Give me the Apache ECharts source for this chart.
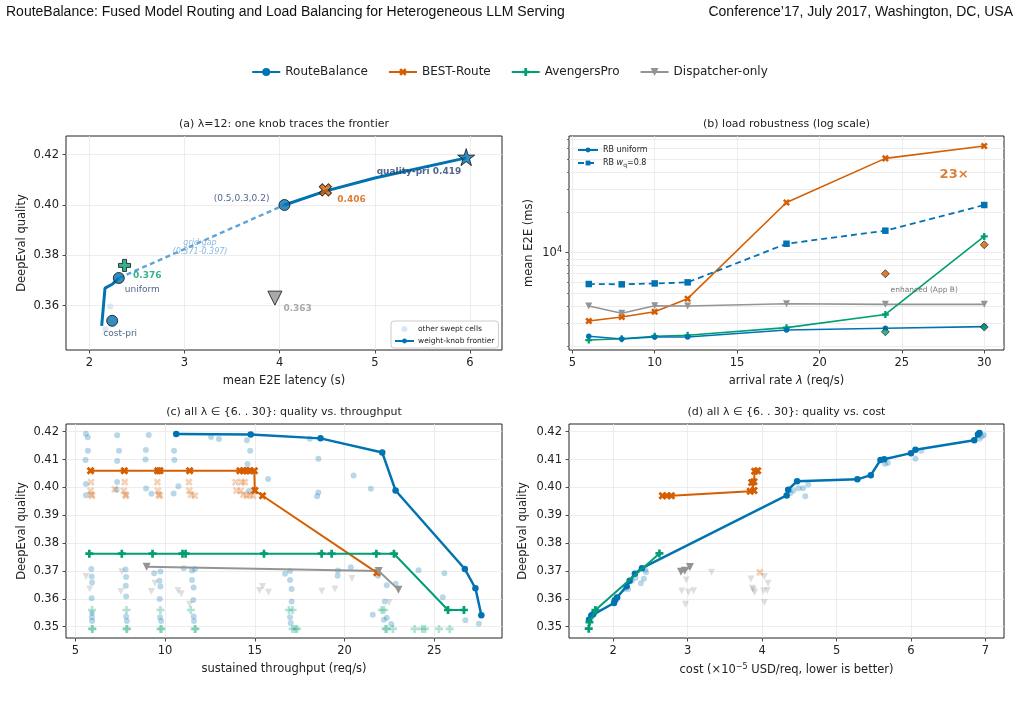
<!DOCTYPE html>
<html>
<head>
<meta charset="utf-8">
<script src="https://cdn.jsdelivr.net/npm/echarts@6/dist/echarts.min.js"></script>
<style>
  html, body { margin: 0; padding: 0; background: #fff; }
  #chart { width: 1019px; height: 715px; }
</style>
</head>
<body>
<div id="chart"></div>
<script>
// ---- (a) lambda = 12 ----
const aSwept = [[2.22, 0.3597], [2.17, 0.3506]];
const aFrontierLow = [[2.13, 0.352], [2.165, 0.367], [2.24, 0.3685], [2.31, 0.371]];
const aFrontierHigh = [[4.05, 0.400], [4.48, 0.4055], [5.0, 0.4107], [5.96, 0.4187]];
const aGap = [[2.31, 0.371], [4.05, 0.400]];
const aRbPoints = [[2.24, 0.354], [2.31, 0.371], [4.05, 0.400]];
const aRbNames = ['cost-pri', 'uniform', '(0.5,0.3,0.2)'];
const aStar = [5.96, 0.419];
const aBest = [4.48, 0.406];
const aAvengers = [2.37, 0.376];
const aDispatcher = [3.95, 0.363];
const aGapNote = [3.163, 0.3832];

// ---- (b) load robustness ----
const rates = [6, 8, 10, 12, 18, 24, 30];
const rbUniform = [2380, 2270, 2350, 2350, 2650, 2730, 2810];
const rbWq08 = [5840, 5810, 5900, 6010, 11670, 14600, 22700];
const bestRoute = [3090, 3310, 3630, 4540, 23700, 50600, 62500];
const avengers = [2230, 2280, 2380, 2420, 2760, 3460, 13240];
const dispatcher = [4000, 3530, 4020, 4000, 4160, 4120, 4120];
const enhRates = [24, 30];
const enhBest = [6970, 11470];
const enhAvengers = [2570, 2790];
const bMajorTicks = [1e4];
const bMinorTicks = [2000, 3000, 4000, 5000, 6000, 7000, 8000, 9000, 20000, 30000, 40000, 50000, 60000, 70000];

// ---- (c) quality vs throughput ----
const cRb = [[10.62, 0.4192], [14.77, 0.419], [18.66, 0.4176], [22.1, 0.4125], [22.84, 0.3989], [26.7, 0.3707], [27.29, 0.3638], [27.62, 0.3541]];
const cBest = [[5.85, 0.406], [7.73, 0.406], [9.59, 0.406], [9.71, 0.406], [11.37, 0.406], [14.17, 0.406], [14.36, 0.406], [14.54, 0.406], [14.69, 0.406], [14.97, 0.406], [15.0, 0.3989], [15.43, 0.397], [21.8, 0.3694]];
const cAvengers = [[5.78, 0.3762], [7.59, 0.3762], [9.3, 0.3762], [10.97, 0.3762], [11.14, 0.3762], [15.51, 0.3762], [18.72, 0.3762], [19.28, 0.3762], [21.77, 0.3762], [22.75, 0.3762], [25.76, 0.356], [26.65, 0.356]];
const cDispatcher = [[8.97, 0.3715], [21.9, 0.370], [23.0, 0.3633]];
const cSweptRb = [
  [5.59, 0.4193], [5.69, 0.418], [5.70, 0.4132], [5.57, 0.4098], [5.59, 0.4012], [5.59, 0.3972],
  [5.89, 0.3707], [5.91, 0.368], [5.93, 0.3659], [5.91, 0.3602], [5.93, 0.3549], [5.92, 0.3534], [5.94, 0.352],
  [7.33, 0.4187], [7.43, 0.4132], [7.33, 0.4095], [7.33, 0.4019], [7.30, 0.3992],
  [7.80, 0.3705], [7.83, 0.3678], [7.81, 0.3647], [7.83, 0.3608], [7.83, 0.3537], [7.87, 0.352],
  [9.09, 0.4188], [8.93, 0.4134], [8.91, 0.41], [8.94, 0.3996], [9.24, 0.3977],
  [9.39, 0.3692], [9.74, 0.3698], [9.69, 0.3665], [9.74, 0.3644], [9.70, 0.3599], [9.72, 0.3534], [9.78, 0.352],
  [10.5, 0.4132], [10.52, 0.4098], [10.48, 0.3978], [10.74, 0.4004],
  [11.04, 0.371], [11.5, 0.3702], [11.67, 0.3707], [11.5, 0.3668], [11.59, 0.3641], [11.57, 0.3596], [11.59, 0.3537], [11.61, 0.352],
  [12.56, 0.4181], [13.0, 0.4174], [14.56, 0.4169], [14.74, 0.4132], [14.59, 0.4084], [14.67, 0.3987], [15.74, 0.403],
  [18.06, 0.4175], [18.54, 0.4103], [18.54, 0.3982], [18.47, 0.3968], [20.5, 0.4043], [21.46, 0.3995],
  [16.68, 0.369], [16.96, 0.370], [16.96, 0.3668], [17.05, 0.3635], [17.05, 0.359], [16.96, 0.3534], [17.0, 0.3513],
  [19.63, 0.3702], [20.35, 0.3713], [19.61, 0.3683], [21.87, 0.3683], [22.35, 0.3649], [22.85, 0.3654],
  [22.24, 0.359], [21.57, 0.3543], [22.19, 0.3525], [22.35, 0.3532], [22.6, 0.351],
  [24.12, 0.3703], [25.56, 0.3692], [25.47, 0.3606], [26.73, 0.3523], [27.48, 0.3511]
];
const cSweptBest = [
  [5.87, 0.4019], [5.85, 0.3988], [5.89, 0.3974], [5.93, 0.397],
  [7.75, 0.4019], [7.2, 0.3993], [7.7, 0.3988], [7.8, 0.3974], [7.82, 0.397],
  [9.57, 0.4019], [9.6, 0.3988], [9.65, 0.3974], [9.7, 0.397],
  [11.33, 0.4019], [11.35, 0.3988], [11.45, 0.3974], [11.65, 0.397],
  [13.93, 0.4019], [14.26, 0.4019], [14.44, 0.4019], [13.98, 0.3988], [14.22, 0.3988],
  [14.35, 0.3974], [14.55, 0.397], [14.72, 0.3974], [14.9, 0.397]
];
const cSweptAvengers = [
  [5.93, 0.356], [7.85, 0.356], [9.74, 0.356], [11.43, 0.356], [16.9, 0.356], [17.1, 0.356], [22.07, 0.356], [22.2, 0.356],
  [5.93, 0.3492], [5.96, 0.3492], [7.85, 0.3492], [7.88, 0.3492], [9.74, 0.3492], [9.8, 0.3492], [11.65, 0.3492], [11.7, 0.3492],
  [17.1, 0.3492], [17.25, 0.3492], [17.35, 0.3492], [22.28, 0.3492], [22.34, 0.3492], [22.69, 0.3492],
  [23.9, 0.3492], [24.33, 0.3492], [24.48, 0.3492], [25.26, 0.3492], [25.86, 0.3492]
];
const cSweptDispatcher = [
  [5.59, 0.368], [5.8, 0.3635], [7.59, 0.3697], [7.54, 0.3626], [9.43, 0.3656], [9.24, 0.3626],
  [10.72, 0.363], [10.9, 0.3618], [11.37, 0.3581], [15.26, 0.363], [15.43, 0.3644], [15.76, 0.3624],
  [18.73, 0.3628], [19.46, 0.3635], [20.41, 0.3673], [22.48, 0.3587]
];

// ---- (d) quality vs cost ----
const dRb = [[1.674, 0.3525], [1.705, 0.354], [1.73, 0.3545], [2.01, 0.3585], [2.02, 0.3595], [2.05, 0.3605], [2.18, 0.3645], [2.22, 0.3665], [2.29, 0.369], [2.385, 0.371], [4.33, 0.3971], [4.35, 0.3992], [4.47, 0.4022], [5.28, 0.4029], [5.46, 0.4044], [5.59, 0.4098], [5.64, 0.4101], [6.0, 0.4123], [6.06, 0.4135], [6.85, 0.4169], [6.9, 0.419], [6.92, 0.4195]];
const dAvengers = [[1.67, 0.3493], [1.68, 0.3516], [1.76, 0.356], [2.62, 0.3763]];
const dBest = [[2.66, 0.397], [2.72, 0.397], [2.78, 0.397], [3.84, 0.3986], [3.89, 0.3989], [3.86, 0.4018], [3.89, 0.402], [3.9, 0.4058], [3.94, 0.406]];
const dDispatcher = [[2.91, 0.3697], [2.96, 0.3701], [3.03, 0.3714]];
const dSweptRb = [
  [1.7, 0.353], [1.72, 0.3545], [1.75, 0.355], [2.04, 0.3595], [2.06, 0.3605], [2.15, 0.3635], [2.2, 0.3635],
  [2.25, 0.3665], [2.3, 0.3675], [2.37, 0.3656], [2.41, 0.3672], [2.44, 0.3695], [2.43, 0.3705],
  [4.38, 0.398], [4.42, 0.3989], [4.49, 0.3997], [4.55, 0.3997], [4.62, 0.401], [4.58, 0.3968],
  [5.65, 0.4085], [5.69, 0.4088], [6.06, 0.4103], [6.14, 0.4132], [6.92, 0.4175], [6.95, 0.4183], [6.98, 0.4188]
];
const dSweptDispatcher = [
  [3.32, 0.3695], [2.98, 0.3668], [2.92, 0.3628], [3.01, 0.3624], [3.08, 0.3629], [2.97, 0.3581],
  [3.85, 0.3671], [3.87, 0.3638], [3.9, 0.3624], [4.03, 0.368], [4.08, 0.3656], [4.02, 0.3628],
  [4.07, 0.363], [4.03, 0.3587], [3.88, 0.3632]
];
const dSweptBest = [[3.97, 0.3695]];

const BLUE = '#0173b2', ORANGE = '#d55e00', GREEN = '#029e73', GRAY = '#949494';
const NAVY = '#24406e', INK = '#222', GRIDC = '#e8e8e8', FONT = 'DejaVu Sans';
const PLUS = 'path://M-1,-3L1,-3L1,-1L3,-1L3,1L1,1L1,3L-1,3L-1,1L-3,1L-3,-1L-1,-1Z';

function starPath() {
  let d = '';
  for (let i = 0; i < 10; i++) {
    const r = i % 2 ? 0.382 : 1;
    const ang = (-90 + i * 36) * Math.PI / 180;
    d += (i ? 'L' : 'M') + (r * Math.cos(ang)).toFixed(3) + ',' + (r * Math.sin(ang)).toFixed(3);
  }
  return 'path://' + d + 'Z';
}
const STAR = starPath();

const MARK = {
  rb: { symbol: 'circle', symbolRotate: 0 },
  best: { symbol: PLUS, symbolRotate: 45 },
  avg: { symbol: PLUS, symbolRotate: 0 },
  disp: { symbol: 'triangle', symbolRotate: 180 }
};

function valAxis(grid, min, max, ticks, fmt, name, extra) {
  return Object.assign({
    type: 'value', gridIndex: grid, min: min, max: max,
    axisLine: { show: false },
    axisTick: { show: true, customValues: ticks, length: 3.5, lineStyle: { color: INK, width: 0.8 } },
    axisLabel: { customValues: ticks, formatter: fmt, fontSize: 11.5, color: INK, margin: 7, fontFamily: FONT },
    splitLine: { show: true, lineStyle: { color: GRIDC, width: 0.8 } },
    name: name, nameLocation: 'middle',
    nameTextStyle: { fontSize: 11.5, color: INK, fontFamily: FONT }
  }, extra || {});
}
const f0 = v => String(Math.round(v));
const f2 = v => v.toFixed(2);

function line(name, xi, yi, data, color, mark, opt) {
  opt = opt || {};
  return {
    type: 'line', name: name, xAxisIndex: xi, yAxisIndex: yi, data: data,
    symbol: mark ? mark.symbol : 'none', symbolRotate: mark ? mark.symbolRotate : 0,
    symbolSize: opt.size || 6, showSymbol: !!mark,
    lineStyle: { color: color, width: opt.width || 2, type: opt.dash || 'solid', opacity: opt.opacity || 1 },
    itemStyle: { color: color, opacity: opt.opacity || 1 },
    z: opt.z || 3, animation: false, silent: true
  };
}
function dots(name, xi, yi, data, color, mark, size, alpha, z) {
  return {
    type: 'scatter', name: name, xAxisIndex: xi, yAxisIndex: yi, data: data,
    symbol: mark.symbol, symbolRotate: mark.symbolRotate, symbolSize: size,
    itemStyle: { color: color, opacity: alpha }, z: z || 2, animation: false, silent: true
  };
}
function bigMark(name, point, color, symbol, rot, size, label) {
  return {
    type: 'scatter', name: name, xAxisIndex: 0, yAxisIndex: 0,
    data: [{ value: point, label: label }],
    symbol: symbol, symbolRotate: rot, symbolSize: size,
    itemStyle: { color: color, borderColor: '#111', borderWidth: 1 },
    z: 6, animation: false, silent: true
  };
}
const annot = (color, bold) => ({ show: true, color: color, fontSize: 9, fontFamily: FONT, fontWeight: bold ? 'bold' : 'normal' });

const bLogMin = Math.log10(1880), bLogMax = Math.log10(74300);
const supRich = { s: { fontSize: 8, verticalAlign: 'top', padding: [0, 0, 6, 0] }, i: { fontStyle: 'italic' } };

const option = {
  animation: false,
  textStyle: { fontFamily: FONT },
  grid: [
    { left: 66, top: 136, width: 436, height: 214, show: true, borderColor: INK, borderWidth: 1 },
    { left: 569, top: 136, width: 435, height: 214, show: true, borderColor: INK, borderWidth: 1 },
    { left: 66, top: 424, width: 436, height: 214, show: true, borderColor: INK, borderWidth: 1 },
    { left: 569, top: 424, width: 435, height: 214, show: true, borderColor: INK, borderWidth: 1 }
  ],
  xAxis: [
    valAxis(0, 1.755, 6.336, [2, 3, 4, 5, 6], f0, 'mean E2E latency (s)', { nameGap: 25 }),
    valAxis(1, 4.8, 31.2, [5, 10, 15, 20, 25, 30], f0, 'arrival rate {i|λ} (req/s)', {
      nameGap: 25, nameTextStyle: { fontSize: 11.5, color: INK, fontFamily: FONT, rich: supRich } }),
    valAxis(2, 4.48, 28.77, [5, 10, 15, 20, 25], f0, 'sustained throughput (req/s)', { nameGap: 25 }),
    valAxis(3, 1.405, 7.25, [2, 3, 4, 5, 6, 7], f0, 'cost (×10{s|−5} USD/req, lower is better)', {
      nameGap: 25, nameTextStyle: { fontSize: 11.5, color: INK, fontFamily: FONT, rich: supRich } })
  ],
  yAxis: [
    valAxis(0, 0.3424, 0.4274, [0.36, 0.38, 0.40, 0.42], f2, 'DeepEval quality', { nameGap: 38 }),
    { type: 'log', logBase: 10, gridIndex: 1, min: 1880, max: 74300, show: false },
    valAxis(1, bLogMin, bLogMax, bMajorTicks.map(Math.log10),
      v => '10{s|' + Math.round(v) + '}', 'mean E2E (ms)', {
        position: 'left', nameGap: 34,
        axisLabel: { customValues: bMajorTicks.map(Math.log10), formatter: v => '10{s|' + Math.round(v) + '}',
          fontSize: 11.5, color: INK, margin: 7, fontFamily: FONT, rich: supRich } }),
    valAxis(1, bLogMin, bLogMax, bMinorTicks.map(Math.log10), f2, '', {
      position: 'left',
      axisTick: { show: true, customValues: bMinorTicks.map(Math.log10), length: 2, lineStyle: { color: INK, width: 0.6 } },
      axisLabel: { show: false } }),
    valAxis(2, 0.34594, 0.42276, [0.35, 0.36, 0.37, 0.38, 0.39, 0.40, 0.41, 0.42], f2, 'DeepEval quality', { nameGap: 38 }),
    valAxis(3, 0.34594, 0.42276, [0.35, 0.36, 0.37, 0.38, 0.39, 0.40, 0.41, 0.42], f2, 'DeepEval quality', { nameGap: 40 })
  ],
  legend: [
    {
      data: ['RouteBalance', 'BEST-Route', 'AvengersPro', 'Dispatcher-only'],
      top: 61, left: 'center', itemWidth: 28, itemHeight: 10, itemGap: 20,
      textStyle: { fontSize: 12, color: INK, fontFamily: FONT }
    },
    {
      data: ['other swept cells', 'weight-knob frontier'],
      orient: 'vertical', left: 391, top: 321, itemWidth: 19, itemHeight: 6, itemGap: 4,
      padding: [4, 4, 3, 3], borderColor: '#cccccc', borderWidth: 1, borderRadius: 3, backgroundColor: '#fff',
      textStyle: { fontSize: 7.5, color: INK, fontFamily: FONT, padding: [0, 0, 0, -1] }
    },
    {
      data: ['RB uniform', 'RB wq=0.8'],
      orient: 'vertical', left: 572, top: 141, itemWidth: 20, itemHeight: 6, itemGap: 5,
      formatter: n => n === 'RB wq=0.8' ? 'RB {i|w}{q|q}=0.8' : n,
      textStyle: { fontSize: 8, color: INK, fontFamily: FONT,
        rich: { i: { fontStyle: 'italic', fontSize: 8 }, q: { fontSize: 6, verticalAlign: 'bottom', padding: [4, 0, 0, 0] } } }
    }
  ],
  graphic: [
    { type: 'text', left: 6, top: 5, style: { text: 'RouteBalance: Fused Model Routing and Load Balancing for Heterogeneous LLM Serving', fontSize: 14, fontFamily: 'Liberation Sans', fill: '#111' } },
    { type: 'text', right: 6, top: 5, style: { text: 'Conference’17, July 2017, Washington, DC, USA', fontSize: 14, fontFamily: 'Liberation Sans', fill: '#111' } },
    { type: 'text', x: 284, y: 124, style: { text: '(a) {i|λ}=12: one knob traces the frontier', align: 'center', verticalAlign: 'middle', fontSize: 11, fontFamily: FONT, fill: INK, rich: supRich } },
    { type: 'text', x: 786.5, y: 124, style: { text: '(b) load robustness (log scale)', align: 'center', verticalAlign: 'middle', fontSize: 11, fontFamily: FONT, fill: INK } },
    { type: 'text', x: 284, y: 412, style: { text: '(c) all {i|λ} ∈ {6. . 30}: quality vs. throughput', align: 'center', verticalAlign: 'middle', fontSize: 11, fontFamily: FONT, fill: INK, rich: supRich } },
    { type: 'text', x: 786.5, y: 412, style: { text: '(d) all {i|λ} ∈ {6. . 30}: quality vs. cost', align: 'center', verticalAlign: 'middle', fontSize: 11, fontFamily: FONT, fill: INK, rich: supRich } }
  ],
  series: [
    // (c) first so the top legend takes its icons from here
    dots('c-rb', 2, 4, cSweptRb, BLUE, MARK.rb, 6, 0.28, 1),
    dots('c-best', 2, 4, cSweptBest, ORANGE, MARK.best, 8, 0.28, 1),
    dots('c-avg', 2, 4, cSweptAvengers, GREEN, MARK.avg, 8, 0.3, 1),
    dots('c-disp', 2, 4, cSweptDispatcher, GRAY, MARK.disp, 7, 0.3, 1),
    line('RouteBalance', 2, 4, cRb, BLUE, MARK.rb, { width: 2.5, size: 6.5, z: 5 }),
    line('BEST-Route', 2, 4, cBest, ORANGE, MARK.best, { width: 2, size: 8.5 }),
    line('AvengersPro', 2, 4, cAvengers, GREEN, MARK.avg, { width: 2, size: 8 }),
    line('Dispatcher-only', 2, 4, cDispatcher, GRAY, MARK.disp, { width: 2, size: 8 }),

    // (d)
    dots('d-rb', 3, 5, dSweptRb, BLUE, MARK.rb, 6, 0.28, 1),
    dots('d-disp', 3, 5, dSweptDispatcher, GRAY, MARK.disp, 7, 0.3, 1),
    dots('d-best', 3, 5, dSweptBest, ORANGE, MARK.best, 8, 0.3, 1),
    line('RouteBalance', 3, 5, dRb, BLUE, MARK.rb, { width: 2.5, size: 6.5, z: 4 }),
    line('BEST-Route', 3, 5, dBest, ORANGE, MARK.best, { width: 2, size: 8.5 }),
    line('AvengersPro', 3, 5, dAvengers, GREEN, MARK.avg, { width: 2, size: 8, z: 5 }),
    line('Dispatcher-only', 3, 5, dDispatcher, GRAY, MARK.disp, { width: 2, size: 8 }),

    // (b)
    line('b-best', 1, 1, rates.map((r, i) => [r, bestRoute[i]]), ORANGE, MARK.best, { width: 1.6, size: 7.5 }),
    line('b-disp', 1, 1, rates.map((r, i) => [r, dispatcher[i]]), GRAY, MARK.disp, { width: 1.6, size: 7 }),
    line('b-avg', 1, 1, rates.map((r, i) => [r, avengers[i]]), GREEN, MARK.avg, { width: 1.6, size: 7 }),
    line('RB uniform', 1, 1, rates.map((r, i) => [r, rbUniform[i]]), BLUE, MARK.rb, { width: 1.6, size: 5.5 }),
    Object.assign(line('RB wq=0.8', 1, 1, rates.map((r, i) => [r, rbWq08[i]]), BLUE, { symbol: 'rect', symbolRotate: 0 }, { width: 1.8, size: 6.5 }),
      { lineStyle: { color: BLUE, width: 1.8, type: [6, 4] } }),
    {
      type: 'scatter', name: 'b-enh-best', xAxisIndex: 1, yAxisIndex: 1,
      data: enhRates.map((r, i) => [r, enhBest[i]]), symbol: 'diamond', symbolSize: 8,
      itemStyle: { color: ORANGE, borderColor: '#111', borderWidth: 0.8 }, z: 6, silent: true
    },
    {
      type: 'scatter', name: 'b-enh-avg', xAxisIndex: 1, yAxisIndex: 1,
      data: enhRates.map((r, i) => [r, enhAvengers[i]]), symbol: 'diamond', symbolSize: 8,
      itemStyle: { color: GREEN, borderColor: '#111', borderWidth: 0.8 }, z: 6, silent: true
    },
    {
      type: 'scatter', name: 'b-notes', xAxisIndex: 1, yAxisIndex: 1, symbolSize: 0, silent: true, z: 7,
      data: [
        { value: [28.17, 38000], label: { show: true, position: 'inside', formatter: '23×', color: ORANGE, fontSize: 13, fontWeight: 'bold', fontFamily: FONT } },
        { value: [26.36, 5270], label: { show: true, position: 'inside', formatter: 'enhanced (App B)', color: '#555', fontSize: 7.5, fontFamily: FONT } }
      ]
    },

    // (a)
    {
      type: 'scatter', name: 'other swept cells', xAxisIndex: 0, yAxisIndex: 0, data: aSwept,
      symbol: 'circle', symbolSize: 6, itemStyle: { color: '#cfe2f1' }, z: 2, silent: true
    },
    line('weight-knob frontier', 0, 0, aFrontierLow, BLUE, null, { width: 3 }),
    line('weight-knob frontier', 0, 0, aFrontierHigh, BLUE, null, { width: 3 }),
    line('a-gap', 0, 0, aGap, '#5fa3d8', null, { width: 2.4, dash: [5, 3.5] }),
    {
      type: 'scatter', name: 'a-gap-note', xAxisIndex: 0, yAxisIndex: 0, data: [aGapNote], symbolSize: 0, silent: true, z: 7,
      label: { show: true, position: 'inside', formatter: 'grid gap\n(0.371-0.397)', color: '#6fa9d8', fontSize: 8, fontStyle: 'italic', lineHeight: 9, fontFamily: FONT }
    },
    {
      type: 'scatter', name: 'a-rb', xAxisIndex: 0, yAxisIndex: 0, symbol: 'circle', symbolSize: 11,
      itemStyle: { color: BLUE, borderColor: '#111', borderWidth: 1 }, z: 6, silent: true,
      data: aRbPoints.map((p, i) => ({
        value: p,
        label: Object.assign(annot(NAVY, false), { formatter: aRbNames[i] },
          [{ position: 'bottom', distance: 2, offset: [8, 0] },
           { position: 'right', distance: 0, offset: [0, 12] },
           { position: 'left', distance: 9, offset: [0, -6] }][i])
      }))
    },
    bigMark('a-star', aStar, BLUE, STAR, 0, 17,
      Object.assign(annot(NAVY, true), { position: 'left', distance: 0, offset: [4, 15], formatter: p => 'quality-pri ' + p.value[1].toFixed(3) })),
    bigMark('a-best', aBest, ORANGE, PLUS, 45, 13,
      Object.assign(annot(ORANGE, true), { position: 'right', distance: 2, offset: [0, 10], formatter: p => p.value[1].toFixed(3) })),
    bigMark('a-avg', aAvengers, GREEN, PLUS, 0, 12,
      Object.assign(annot(GREEN, true), { position: 'right', distance: 2, offset: [0, 10], formatter: p => p.value[1].toFixed(3) })),
    bigMark('a-disp', aDispatcher, GRAY, 'triangle', 180, 14,
      Object.assign(annot(GRAY, true), { position: 'right', distance: 1, offset: [0, 11], formatter: p => p.value[1].toFixed(3) }))
  ]
};

const chart = echarts.init(document.getElementById('chart'), null, { renderer: 'canvas' });
chart.setOption(option);
</script>
</body>
</html>
